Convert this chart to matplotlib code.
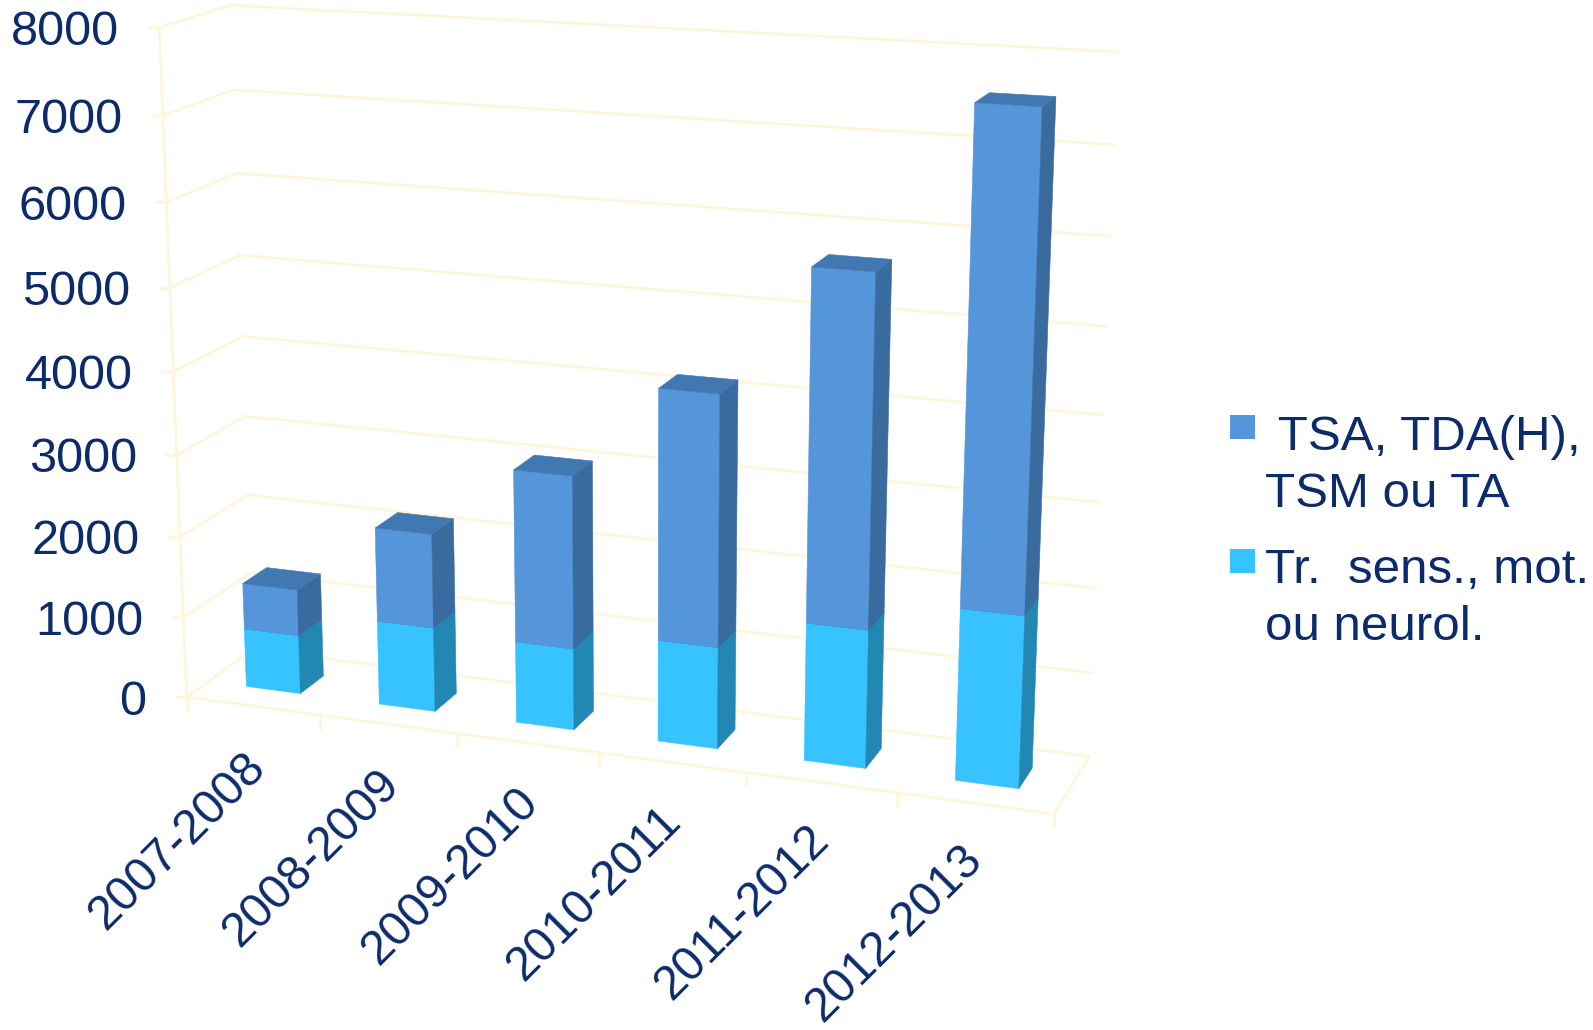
import numpy as np
import matplotlib
matplotlib.use("Agg")
import matplotlib.pyplot as plt
from matplotlib.patches import Polygon, Rectangle

plt.rcParams['font.family'] = ['Liberation Sans', 'DejaVu Sans']

years = ['2007-2008', '2008-2009', '2009-2010', '2010-2011', '2011-2012', '2012-2013']
lower = [730, 1035, 990, 1220, 1635, 2010]
upper = [570, 1145, 2070, 2960, 4060, 5575]
y_ticks = [0, 1000, 2000, 3000, 4000, 5000, 6000, 7000, 8000]
legend_lines = [[' TSA, TDA(H),', 'TSM ou TA'], ['Tr.  sens., mot.', 'ou neurol.']]

TEXT = '#0b2b6b'
GRID = '#fff6da'
C_UP = ('#5596db', '#3a6b9f', '#4178b2')     # front, side, top
C_LOW = ('#36c3ff', '#2287b3', '#2287b3')

# frame of the 3d box in picture pixels: (category, value, depth) -> (px, py)
frame = [
    (0, 0, 0, 188, 695), (0, 1000, 0, 183, 617), (0, 2000, 0, 180, 535),
    (0, 3000, 0, 177, 453), (0, 5000, 0, 172, 287), (0, 6000, 0, 167, 201),
    (0, 7000, 0, 163, 115), (0, 8000, 0, 160, 28),
    (0, 0, 1, 256, 650), (0, 1000, 1, 252, 572), (0, 2000, 1, 248, 495),
    (0, 3000, 1, 245, 416), (0, 4000, 1, 242, 336), (0, 5000, 1, 238, 256),
    (0, 6000, 1, 236, 174), (0, 7000, 1, 233, 90), (0, 8000, 1, 230, 6),
    (6, 0, 1, 1088, 756), (6, 1000, 1, 1093, 672), (6, 2000, 1, 1095, 587),
    (6, 3000, 1, 1101, 501), (6, 4000, 1, 1105, 415), (6, 5000, 1, 1108, 327),
    (6, 6000, 1, 1111, 236), (6, 7000, 1, 1114, 146), (6, 8000, 1, 1117, 52),
    (1, 0, 0, 318, 717), (2, 0, 0, 453, 738), (3, 0, 0, 602, 753),
    (4, 0, 0, 746, 775), (5, 0, 0, 897, 795), (6, 0, 0, 1053, 810),
]


def fit_camera(points):
    A = []
    b = []
    for cat, val, dep, px, py in points:
        v = val / 8000
        A.append([cat, v, dep, 1, 0, 0, 0, 0, -px * cat, -px * v, -px * dep])
        A.append([0, 0, 0, 0, cat, v, dep, 1, -py * cat, -py * v, -py * dep])
        b += [px, py]
    p = np.linalg.lstsq(np.array(A, float), np.array(b, float), rcond=None)[0]
    return np.append(p, 1).reshape(3, 4)


cam = fit_camera(frame)


def proj(cat, val, dep):
    q = cam @ np.array([cat, val / 8000, dep, 1.0])
    return q[0] / q[2], q[1] / q[2]


fig = plt.figure(figsize=(15.93, 10.30), dpi=100)
ax = fig.add_axes([0, 0, 1, 1])
ax.set_xlim(0, 1593)
ax.set_ylim(1030, 0)
ax.axis('off')


def line(pts, lw=2.0):
    xs, ys = zip(*pts)
    ax.plot(xs, ys, color=GRID, lw=lw, solid_capstyle='round', zorder=1)


# walls and floor
for v in y_ticks:
    line([proj(0, v, 0), proj(0, v, 1), proj(6, v, 1)])
    x0, y0 = proj(0, v, 0)
    line([(x0 - 11, y0), (x0, y0)])
    ax.text(x0 - 40, y0 + 5, str(v), color=TEXT, fontsize=35, ha='right', va='center')
line([proj(0, 0, 0), proj(0, 8000, 0)])
line([proj(0, 0, 0), proj(6, 0, 0), proj(6, 0, 1)])
for i in range(7):
    x0, y0 = proj(i, 0, 0)
    line([(x0, y0), (x0, y0 + 14)])


def box(i, v0, v1, colors):
    x0, x1 = i + 0.29, i + 0.70
    z0, z1 = 0.32, 0.68
    front = [proj(x0, v0, z0), proj(x1, v0, z0), proj(x1, v1, z0), proj(x0, v1, z0)]
    side = [proj(x1, v0, z0), proj(x1, v0, z1), proj(x1, v1, z1), proj(x1, v1, z0)]
    top = [proj(x0, v1, z0), proj(x1, v1, z0), proj(x1, v1, z1), proj(x0, v1, z1)]
    for pts, c in zip((front, side, top), colors):
        ax.add_patch(Polygon(pts, closed=True, fc=c, ec=c, lw=0.4, zorder=2 + i))


for i in range(len(years)):
    box(i, 0, lower[i], C_LOW)
    box(i, lower[i], lower[i] + upper[i], C_UP)
    x0, y0 = proj(i + 0.5, 0, 0)
    ax.text(x0 + 6 - 1.2 * i, y0 + 54 - 1.0 * i, years[i], color=TEXT, fontsize=34.5,
            rotation=45, rotation_mode='anchor', ha='right', va='center')

# legend
ax.add_patch(Rectangle((1230, 415), 25, 24, fc=C_UP[0], ec='none'))
ax.add_patch(Rectangle((1230, 549), 25, 24, fc=C_LOW[0], ec='none'))
ax.text(1265, 450, legend_lines[0][0], color=TEXT, fontsize=35.5, va='baseline')
ax.text(1265, 507, legend_lines[0][1], color=TEXT, fontsize=35.5, va='baseline')
ax.text(1265, 583, legend_lines[1][0], color=TEXT, fontsize=35.5, va='baseline')
ax.text(1265, 640, legend_lines[1][1], color=TEXT, fontsize=35.5, va='baseline')

fig.savefig('out.png', dpi=100)
